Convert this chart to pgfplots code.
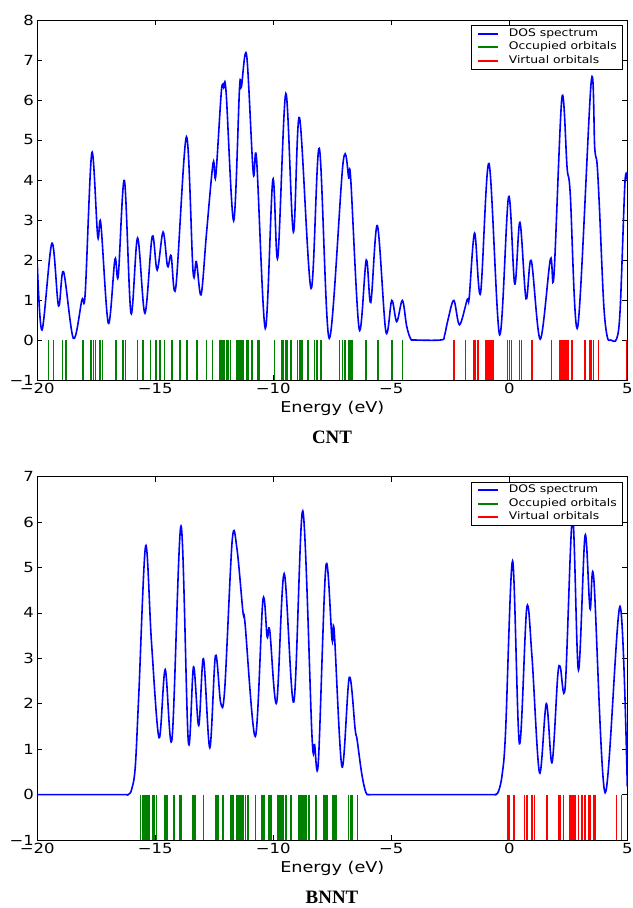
\documentclass[border=0pt]{standalone}
\usepackage{fontspec}
\setmainfont[FakeStretch=1.18]{DejaVu Sans}
\newfontfamily\serifb{Liberation Serif}
\usepackage{pgfplots}
\pgfplotsset{compat=1.18}
\definecolor{mplblue}{rgb}{0,0,1}
\definecolor{mplgreen}{rgb}{0,0.5,0}
\definecolor{mplred}{rgb}{1,0,0}
\pgfplotsset{dosaxis/.style={
  scale only axis, width=590bp,
  xmin=-20, xmax=5,
  xtick={-20,-15,-10,-5,0,5},
  xticklabels={−20,−15,−10,−5,0,5},
  tick align=inside, major tick length=5bp,
  axis line style={black, line width=0.8bp},
  tick style={black, line width=0.6bp},
  ticklabel style={font=\fontsize{14}{14}\selectfont},
  xlabel={Energy (eV)},
  label style={font=\fontsize{15}{16}\selectfont},
  legend style={at={(rel axis cs:0.993,0.986)}, anchor=north east,
     font=\fontsize{10.5}{11}\selectfont, draw=black, line width=0.8bp,
     inner xsep=5bp, inner ysep=1.5bp, row sep=0bp, column sep=9bp,
     nodes={inner sep=1bp, text height=8.5bp, text depth=3bp}},
  legend cell align=left,
}}
\begin{document}
\begin{tikzpicture}
\useasboundingbox (0,0) rectangle (633bp,908bp);
% ---------------- CNT ----------------
\begin{axis}[dosaxis, height=360bp, at={(37.3bp,528bp)}, anchor=south west,
  ymin=-1, ymax=8, ytick={-1,0,1,2,3,4,5,6,7,8},
  yticklabels={−1,0,1,2,3,4,5,6,7,8}]
\addplot[color=mplblue, line width=1.6bp, smooth, tension=0.55,
  legend image code/.code={\draw[color=mplblue, line width=2bp] (0bp,0bp) -- (20bp,0bp);}] coordinates {
(-20.00,1.90) (-19.80,0.25) (-19.38,2.42) (-19.10,0.85) (-18.89,1.71) (-18.47,0.04)
(-18.11,1.00) (-17.97,1.17) (-17.69,4.68) (-17.44,2.59) (-17.31,2.92) (-16.99,0.42)
(-16.71,2.02) (-16.57,1.60) (-16.31,3.99) (-16.03,0.67) (-15.75,2.55) (-15.44,0.67)
(-15.13,2.59) (-14.92,1.75) (-14.67,2.70) (-14.48,1.84) (-14.33,2.11) (-14.13,1.32)
(-13.68,5.08) (-13.40,1.71) (-13.26,1.96) (-13.06,1.13) (-12.83,2.67) (-12.55,4.43)
(-12.44,4.09) (-12.20,6.22) (-12.10,6.31) (-12.00,6.20) (-11.68,2.98) (-11.43,6.31) (-11.35,6.33)
(-11.13,7.12) (-10.85,4.18) (-10.71,4.53) (-10.34,0.29) (-10.02,4.01) (-9.81,2.06)
(-9.47,6.16) (-9.15,2.70) (-8.89,5.56) (-8.40,1.29) (-8.05,4.79) (-7.63,0.04)
(-7.04,4.45) (-6.80,4.05) (-6.72,4.03) (-6.36,0.27) (-6.06,2.00) (-5.87,0.94)
(-5.59,2.86) (-5.23,0.21) (-4.98,0.99) (-4.77,0.46) (-4.53,0.99) (-4.35,0.35)
(-4.18,0.03) (-4.00,0.00) (-2.90,0.00) (-2.75,0.10) (-2.60,0.50) (-2.35,0.99)
(-2.11,0.38) (-1.78,1.02)
(-1.70,1.05) (-1.47,2.67) (-1.22,1.17) (-0.86,4.41) (-0.41,0.13) (-0.03,3.58)
(0.23,1.40) (0.45,2.94) (0.71,1.03) (0.93,1.99) (1.31,0.02) (1.74,2.02) (1.89,1.60)
(2.23,6.06) (2.45,4.30) (2.58,3.68) (2.90,0.33) (3.47,6.45) (3.62,4.80) (3.72,4.40)
(3.82,3.30) (4.00,0.90) (4.15,0.08) (4.30,0.00) (4.55,0.03) (4.70,0.80) (4.90,3.93) (5.00,4.00)};
\addlegendimage{legend image code/.code={\draw[color=mplgreen, line width=2bp] (0bp,0bp) -- (20bp,0bp);}}
\addlegendimage{legend image code/.code={\draw[color=mplred, line width=2bp] (0bp,0bp) -- (20bp,0bp);}}
\legend{DOS spectrum, Occupied orbitals, Virtual orbitals}
\addplot[color=mplgreen, ycomb, line width=1.6bp, forget plot] coordinates {
(-19.52,-1) (-19.31,-1) (-18.93,-1) (-18.79,-1) (-18.07,-1) (-17.72,-1) (-17.62,-1)
(-17.54,-1) (-17.34,-1) (-17.23,-1) (-16.66,-1) (-16.36,-1) (-16.26,-1) (-15.76,-1)
(-15.51,-1) (-15.20,-1) (-14.97,-1) (-14.81,-1) (-14.61,-1) (-14.29,-1) (-13.96,-1)
(-13.68,-1) (-13.64,-1) (-13.23,-1) (-12.83,-1) (-12.58,-1) (-12.27,-1) (-12.20,-1)
(-12.13,-1) (-12.06,-1) (-11.99,-1) (-11.92,-1) (-11.81,-1) (-11.54,-1) (-11.46,-1)
(-11.36,-1) (-11.29,-1) (-11.14,-1) (-11.08,-1) (-10.91,-1) (-10.65,-1) (-10.58,-1)
(-9.95,-1) (-9.64,-1) (-9.56,-1) (-9.46,-1) (-9.41,-1) (-9.25,-1) (-8.97,-1)
(-8.89,-1) (-8.82,-1) (-8.78,-1) (-8.54,-1) (-8.26,-1) (-8.16,-1) (-7.98,-1)
(-7.20,-1) (-7.06,-1) (-6.95,-1) (-6.78,-1) (-6.71,-1) (-6.64,-1) (-6.08,-1)
(-5.59,-1) (-5.54,-1) (-4.98,-1) (-4.53,-1)};
\addplot[color=mplred, ycomb, line width=1.6bp, forget plot] coordinates {
(-2.35,-1) (-1.86,-1) (-1.50,-1) (-1.43,-1) (-1.33,-1) (-0.98,-1) (-0.91,-1)
(-0.83,-1) (-0.73,-1) (-0.69,-1) (-0.07,-1) (0.00,-1) (0.09,-1) (0.44,-1) (0.51,-1)
(0.96,-1) (1.78,-1) (2.12,-1) (2.20,-1) (2.27,-1) (2.34,-1) (2.40,-1) (2.48,-1)
(2.65,-1) (3.21,-1) (3.42,-1) (3.49,-1) (3.56,-1) (3.78,-1) (4.96,-1)};
\end{axis}
\node[font=\serifb\bfseries\fontsize{19}{19}\selectfont] at (332bp,471bp) {CNT};
% ---------------- BNNT ----------------
\begin{axis}[dosaxis, height=363.5bp, at={(37.3bp,68bp)}, anchor=south west,
  ymin=-1, ymax=7, ytick={-1,0,1,2,3,4,5,6,7},
  yticklabels={−1,0,1,2,3,4,5,6,7}]
\addplot[color=mplblue, line width=1.6bp, smooth, tension=0.55,
  legend image code/.code={\draw[color=mplblue, line width=2bp] (0bp,0bp) -- (20bp,0bp);}] coordinates {
(-20.00,0.00) (-16.50,0.00) (-16.15,0.00) (-16.00,0.12) (-15.85,0.60) (-15.70,2.20)
(-15.41,5.47) (-15.16,3.34)
(-14.84,1.25) (-14.58,2.75) (-14.29,1.23) (-13.91,5.91) (-13.60,1.16) (-13.38,2.81)
(-13.16,1.52) (-12.96,2.99) (-12.69,1.03) (-12.45,3.06) (-12.23,2.02) (-12.06,2.31)
(-11.74,5.60) (-11.54,5.41) (-11.29,4.04) (-11.20,3.78) (-10.76,1.28) (-10.44,4.28)
(-10.26,3.47) (-10.15,3.61) (-9.86,2.02) (-9.54,4.86) (-9.13,2.04) (-8.75,6.24)
(-8.36,1.28) (-8.25,1.10) (-8.09,0.73) (-7.77,5.03) (-7.51,3.40) (-7.42,3.60)
(-7.09,0.61) (-6.78,2.58) (-6.53,1.43) (-6.45,1.21) (-6.25,0.45) (-6.08,0.05)
(-5.95,0.00) (-5.50,0.00)
(-1.00,0.00) (-0.60,0.00) (-0.45,0.08) (-0.30,0.45) (-0.16,1.36) (0.14,5.14) (0.43,1.12) (0.74,4.11) (0.96,3.04)
(1.28,0.48) (1.57,2.00) (1.81,0.70) (2.05,2.60) (2.16,2.81) (2.37,2.38) (2.68,6.10)
(2.93,2.74) (3.21,5.70) (3.42,4.09) (3.58,4.75) (4.06,0.04) (4.69,4.14) (5.00,0.18)};
\addlegendimage{legend image code/.code={\draw[color=mplgreen, line width=2bp] (0bp,0bp) -- (20bp,0bp);}}
\addlegendimage{legend image code/.code={\draw[color=mplred, line width=2bp] (0bp,0bp) -- (20bp,0bp);}}
\legend{DOS spectrum, Occupied orbitals, Virtual orbitals}
\addplot[color=mplgreen, ycomb, line width=1.6bp, forget plot] coordinates {
(-15.62,-1) (-15.55,-1) (-15.48,-1) (-15.41,-1) (-15.34,-1) (-15.26,-1) (-15.11,-1)
(-15.06,-1) (-14.95,-1) (-14.59,-1) (-14.50,-1) (-14.21,-1) (-13.96,-1) (-13.89,-1)
(-13.40,-1) (-13.33,-1) (-12.95,-1) (-12.44,-1) (-12.34,-1) (-12.13,-1) (-11.78,-1)
(-11.71,-1) (-11.54,-1) (-11.47,-1) (-11.40,-1) (-11.34,-1) (-11.29,-1) (-11.17,-1)
(-11.08,-1) (-10.75,-1) (-10.47,-1) (-10.40,-1) (-10.19,-1) (-10.09,-1) (-9.81,-1)
(-9.74,-1) (-9.67,-1) (-9.60,-1) (-9.46,-1) (-9.25,-1) (-8.92,-1) (-8.82,-1)
(-8.75,-1) (-8.68,-1) (-8.61,-1) (-8.50,-1) (-8.19,-1) (-7.77,-1) (-7.70,-1)
(-7.84,-1) (-7.49,-1) (-7.42,-1) (-7.34,-1) (-6.81,-1) (-6.71,-1) (-6.64,-1) (-6.43,-1)};
\addplot[color=mplred, ycomb, line width=1.6bp, forget plot] coordinates {
(-0.05,-1) (0.00,-1) (0.19,-1) (0.65,-1) (0.75,-1) (0.96,-1) (1.07,-1) (1.59,-1)
(2.09,-1) (2.16,-1) (2.30,-1) (2.58,-1) (2.65,-1) (2.72,-1) (2.79,-1) (2.93,-1)
(3.07,-1) (3.21,-1) (3.35,-1) (3.42,-1) (3.56,-1) (3.64,-1) (4.55,-1) (4.76,-1)};
\end{axis}
\node[font=\serifb\bfseries\fontsize{19}{19}\selectfont] at (332bp,11bp) {BNNT};
\end{tikzpicture}
\end{document}
